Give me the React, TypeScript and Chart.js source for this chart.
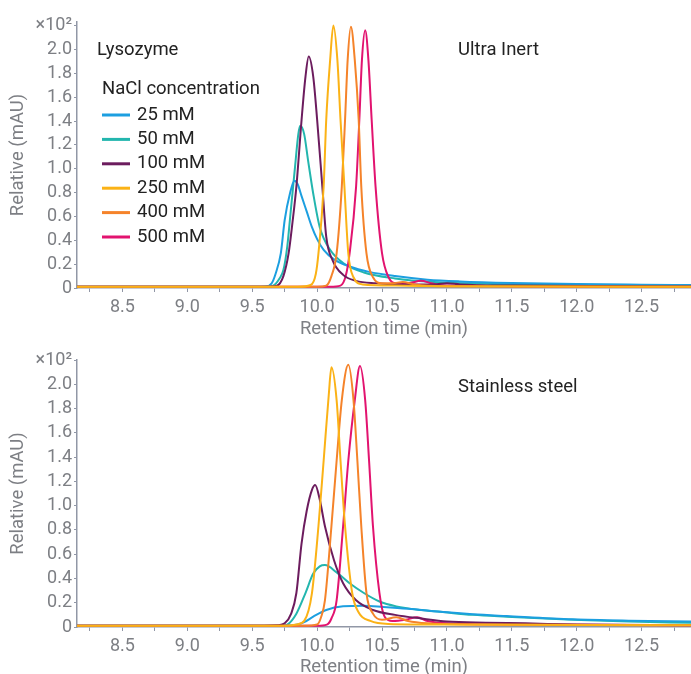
import React, { useEffect, useRef } from "react";
import { Chart, registerables } from "chart.js";

Chart.register(...registerables);

type Pt = [number, number];

// ---------- categories / labels ----------
const seriesLabels = ["25 mM", "50 mM", "100 mM", "250 mM", "400 mM", "500 mM"];
const seriesColors = ["#1c9fe0", "#23b6ae", "#6c1c5e", "#fbb216", "#f5832a", "#e2136f"];
const drawOrder = [3, 4, 2, 0, 1, 2];
const legendTitle = "NaCl concentration";
const xTitle = "Retention time (min)";
const yTitle = "Relative (mAU)";
const xTicks = [8.25, 8.5, 8.75, 9.0, 9.25, 9.5, 9.75, 10.0, 10.25, 10.5, 10.75, 11.0, 11.25, 11.5, 11.75, 12.0, 12.25, 12.5, 12.75];
const yTicks = [0, 0.2, 0.4, 0.6, 0.8, 1.0, 1.2, 1.4, 1.6, 1.8, 2.0, 2.2];

// ---------- Ultra Inert (top) ----------
const ui25: Pt[] = [[8.15, 0.01], [9.5, 0.01], [9.6, 0.012], [9.65, 0.04], [9.68, 0.12], [9.72, 0.29], [9.75, 0.57], [9.79, 0.79], [9.825, 0.9], [9.85, 0.87], [9.88, 0.77], [9.92, 0.64], [9.96, 0.51], [10.0, 0.41], [10.05, 0.32], [10.13, 0.24], [10.25, 0.18], [10.4, 0.135], [10.6, 0.1], [10.85, 0.07], [11.1, 0.055], [11.5, 0.042], [12.0, 0.033], [12.5, 0.028], [12.88, 0.025]];
const ui50: Pt[] = [[8.15, 0.01], [9.55, 0.01], [9.66, 0.02], [9.71, 0.08], [9.74, 0.15], [9.77, 0.35], [9.79, 0.57], [9.83, 1.02], [9.855, 1.29], [9.87, 1.36], [9.9, 1.29], [9.93, 1.07], [9.97, 0.79], [10.02, 0.51], [10.1, 0.32], [10.2, 0.21], [10.36, 0.13], [10.6, 0.08], [10.9, 0.05], [11.3, 0.035], [12.0, 0.025], [12.88, 0.02]];
const ui100: Pt[] = [[8.15, 0.01], [9.6, 0.01], [9.69, 0.02], [9.74, 0.1], [9.78, 0.29], [9.81, 0.55], [9.84, 0.85], [9.88, 1.41], [9.91, 1.77], [9.935, 1.94], [9.97, 1.77], [10.0, 1.41], [10.04, 0.85], [10.07, 0.43], [10.12, 0.23], [10.2, 0.11], [10.3, 0.06], [10.45, 0.04], [10.7, 0.03], [10.9, 0.03], [11.0, 0.04], [11.1, 0.03], [11.5, 0.02], [12.88, 0.012]];
const ui250: Pt[] = [[8.15, 0.01], [9.85, 0.01], [9.95, 0.025], [9.99, 0.12], [10.01, 0.29], [10.05, 0.85], [10.07, 1.41], [10.1, 1.91], [10.125, 2.2], [10.156, 1.91], [10.18, 1.41], [10.21, 0.85], [10.24, 0.29], [10.28, 0.09], [10.35, 0.03], [10.6, 0.02], [11.0, 0.015], [12.88, 0.01]];
const ui400: Pt[] = [[8.15, 0.01], [10.0, 0.01], [10.07, 0.02], [10.11, 0.1], [10.15, 0.29], [10.19, 0.85], [10.215, 1.41], [10.235, 1.91], [10.26, 2.19], [10.29, 1.91], [10.32, 1.41], [10.34, 0.85], [10.38, 0.29], [10.43, 0.09], [10.5, 0.04], [10.58, 0.04], [10.66, 0.05], [10.75, 0.03], [11.0, 0.015], [12.88, 0.01]];
const ui500: Pt[] = [[8.15, 0.01], [10.1, 0.01], [10.18, 0.02], [10.22, 0.1], [10.25, 0.29], [10.3, 0.85], [10.325, 1.41], [10.345, 1.91], [10.37, 2.16], [10.395, 1.91], [10.42, 1.41], [10.45, 0.85], [10.5, 0.29], [10.55, 0.09], [10.61, 0.04], [10.7, 0.04], [10.8, 0.06], [10.88, 0.04], [11.0, 0.02], [12.88, 0.01]];

// ---------- Stainless steel (bottom) ----------
const ss25: Pt[] = [[8.15, 0.01], [9.75, 0.01], [9.85, 0.02], [9.9, 0.04], [9.97, 0.085], [10.07, 0.14], [10.2, 0.17], [10.36, 0.175], [10.51, 0.165], [10.7, 0.15], [10.95, 0.125], [11.2, 0.105], [11.46, 0.09], [11.97, 0.063], [12.4, 0.052], [12.88, 0.045]];
const ss50: Pt[] = [[8.15, 0.01], [9.72, 0.01], [9.77, 0.02], [9.84, 0.11], [9.91, 0.28], [9.97, 0.44], [10.02, 0.5], [10.06, 0.51], [10.15, 0.45], [10.25, 0.36], [10.36, 0.28], [10.48, 0.21], [10.61, 0.17], [10.8, 0.14], [10.95, 0.125], [11.2, 0.1], [11.46, 0.085], [11.97, 0.06], [12.4, 0.045], [12.88, 0.035]];
const ss100: Pt[] = [[8.15, 0.01], [9.45, 0.01], [9.7, 0.015], [9.75, 0.03], [9.8, 0.11], [9.84, 0.28], [9.88, 0.69], [9.92, 0.96], [9.96, 1.13], [9.985, 1.17], [10.02, 1.05], [10.06, 0.83], [10.13, 0.55], [10.2, 0.36], [10.3, 0.22], [10.43, 0.14], [10.6, 0.1], [10.8, 0.07], [11.0, 0.045], [11.3, 0.035], [11.6, 0.03], [12.0, 0.02], [12.88, 0.015]];
const ss250: Pt[] = [[8.15, 0.01], [9.75, 0.01], [9.84, 0.02], [9.9, 0.05], [9.96, 0.28], [10.01, 0.83], [10.05, 1.37], [10.09, 1.92], [10.11, 2.14], [10.15, 1.87], [10.18, 1.37], [10.215, 0.83], [10.27, 0.28], [10.32, 0.12], [10.41, 0.05], [10.55, 0.025], [11.0, 0.02], [12.88, 0.015]];
const ss400: Pt[] = [[8.15, 0.01], [9.9, 0.01], [10.0, 0.02], [10.03, 0.08], [10.06, 0.22], [10.11, 0.83], [10.15, 1.37], [10.19, 1.87], [10.24, 2.16], [10.28, 1.87], [10.31, 1.37], [10.34, 0.83], [10.38, 0.28], [10.43, 0.11], [10.5, 0.06], [10.61, 0.08], [10.7, 0.05], [10.85, 0.03], [11.2, 0.02], [12.88, 0.015]];
const ss500: Pt[] = [[8.15, 0.01], [10.0, 0.01], [10.075, 0.02], [10.11, 0.07], [10.15, 0.22], [10.2, 0.83], [10.24, 1.37], [10.29, 1.87], [10.33, 2.15], [10.37, 1.87], [10.4, 1.37], [10.43, 0.83], [10.48, 0.28], [10.52, 0.085], [10.58, 0.05], [10.68, 0.06], [10.77, 0.08], [10.85, 0.05], [11.0, 0.03], [11.5, 0.02], [12.88, 0.015]];

const topSeries = [ui25, ui50, ui100, ui250, ui400, ui500];
const bottomSeries = [ss25, ss50, ss100, ss250, ss400, ss500];

const xMin = 8.15;
const xMax = 12.88;

const FONT = "Roboto, 'Noto Sans', sans-serif";
const axisColor = "#9197a6";
const tickColor = "#7d7f84";
const textColor = "#222222";
const TICK_SIZE = 18;
const TEXT_SIZE = 18.5;

const annotPlugin = {
  id: "annot",
  afterDraw(chart: any, _args: any, opts: any) {
    const ctx = chart.ctx as CanvasRenderingContext2D;
    ctx.save();
    ctx.font = `${TEXT_SIZE}px ${FONT}`;
    ctx.fillStyle = textColor;
    ctx.textBaseline = "middle";
    ctx.textAlign = "left";
    for (const t of opts.texts || []) ctx.fillText(t.text, t.x, t.y);
    if (opts.legend) {
      ctx.fillText(legendTitle, 102, 89);
      chart.data.datasets.forEach((ds: any, i: number) => {
        const y = 115 + i * 24.4;
        ctx.strokeStyle = ds.borderColor;
        ctx.lineWidth = 3;
        ctx.beginPath();
        ctx.moveTo(102, y);
        ctx.lineTo(130, y);
        ctx.stroke();
        ctx.fillText(ds.label, 137, y);
      });
    }
    ctx.restore();
  },
};

type PanelProps = {
  series: Pt[][];
  height: number;
  yMax: number;
  padTop: number;
  xAxisH: number;
  xTitlePad: number;
  texts: { text: string; x: number; y: number }[];
  legend: boolean;
};

function Panel(p: PanelProps) {
  const ref = useRef<HTMLCanvasElement | null>(null);
  useEffect(() => {
    if (!ref.current) return;
    const tickFont = { family: FONT, size: TICK_SIZE };
    const chart = new Chart(ref.current, {
      type: "line",
      data: {
        datasets: p.series.map((pts, i) => ({
          label: seriesLabels[i],
          data: pts.map(([x, y]) => ({ x, y })),
          borderColor: seriesColors[i],
          backgroundColor: seriesColors[i],
          borderWidth: 2,
          pointRadius: 0,
          cubicInterpolationMode: "monotone",
          fill: false,
          order: drawOrder[i],
        })),
      },
      options: {
        responsive: false,
        animation: false,
        layout: { padding: { top: p.padTop, right: 0, bottom: 0, left: 0 } },
        plugins: {
          legend: { display: false },
          tooltip: { enabled: false },
          annot: { texts: p.texts, legend: p.legend },
        } as any,
        scales: {
          x: {
            type: "linear",
            min: xMin,
            max: xMax,
            afterBuildTicks: (s: any) => {
              s.ticks = xTicks.map((v) => ({ value: v }));
            },
            afterFit: (s: any) => {
              s.height = p.xAxisH;
            },
            ticks: {
              autoSkip: false,
              maxRotation: 0,
              padding: 5,
              color: tickColor,
              font: tickFont,
              callback: (v: any) => {
                const n = Number(v);
                return Math.abs(n * 2 - Math.round(n * 2)) < 1e-6 ? n.toFixed(1) : "";
              },
            },
            grid: { drawOnChartArea: false, tickLength: 4, color: axisColor },
            border: { color: axisColor, width: 1.5 },
            title: {
              display: true,
              text: xTitle,
              color: tickColor,
              font: { family: FONT, size: TEXT_SIZE },
              padding: { top: 0, bottom: p.xTitlePad },
            },
          },
          y: {
            type: "linear",
            min: 0,
            max: p.yMax,
            afterBuildTicks: (s: any) => {
              s.ticks = yTicks.map((v) => ({ value: v }));
            },
            afterFit: (s: any) => {
              s.width = 77;
            },
            ticks: {
              autoSkip: false,
              padding: 2,
              color: tickColor,
              font: tickFont,
              callback: (v: any) => {
                const n = Number(v);
                if (n === 0) return "0";
                if (n > 2.1) return "×10²";
                return n.toFixed(1);
              },
            },
            grid: { drawOnChartArea: false, tickLength: 3, color: axisColor },
            border: { color: axisColor, width: 1.5 },
            title: {
              display: true,
              text: yTitle,
              color: tickColor,
              font: { family: FONT, size: TEXT_SIZE },
              padding: { top: 7, bottom: 0 },
            },
          },
        },
      } as any,
      plugins: [annotPlugin],
    });
    return () => chart.destroy();
  }, []);
  return <canvas ref={ref} width={691} height={p.height} style={{ display: "block", width: 691, height: p.height }} />;
}

export default function App() {
  return (
    <div style={{ position: "absolute", left: 0, top: 0, width: 691, height: 674, overflow: "hidden", background: "#fff" }}>
      <Panel
        series={topSeries}
        height={340}
        yMax={2.23}
        padTop={22}
        xAxisH={52}
        xTitlePad={0}
        texts={[
          { text: "Lysozyme", x: 97, y: 50 },
          { text: "Ultra Inert", x: 458, y: 50 },
        ]}
        legend={true}
      />
      <Panel
        series={bottomSeries}
        height={340}
        yMax={2.2}
        padTop={20}
        xAxisH={53}
        xTitlePad={2}
        texts={[{ text: "Stainless steel", x: 458, y: 47 }]}
        legend={false}
      />
    </div>
  );
}
